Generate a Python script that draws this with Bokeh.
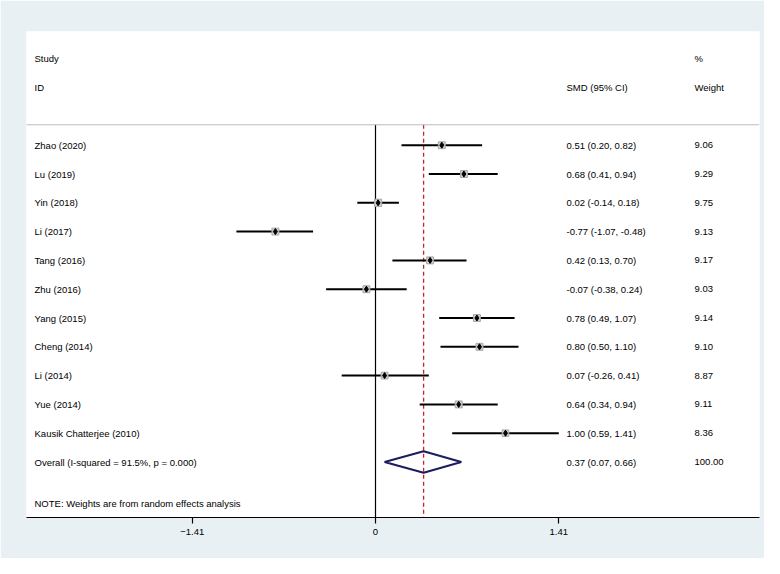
from bokeh.plotting import figure
from bokeh.models import Range1d, FixedTicker, Span, ColumnDataSource
from bokeh.core.properties import value
from bokeh.embed import file_html
from bokeh.resources import INLINE

# ---- data ----
studies = ["Zhao (2020)", "Lu (2019)", "Yin (2018)", "Li (2017)", "Tang (2016)",
           "Zhu (2016)", "Yang (2015)", "Cheng (2014)", "Li (2014)", "Yue (2014)",
           "Kausik Chatterjee (2010)"]
smd = [0.51, 0.68, 0.02, -0.77, 0.42, -0.07, 0.78, 0.80, 0.07, 0.64, 1.00]
ci_lo = [0.20, 0.41, -0.14, -1.07, 0.13, -0.38, 0.49, 0.50, -0.26, 0.34, 0.59]
ci_hi = [0.82, 0.94, 0.18, -0.48, 0.70, 0.24, 1.07, 1.10, 0.41, 0.94, 1.41]
weights = [9.06, 9.29, 9.75, 9.13, 9.17, 9.03, 9.14, 9.10, 8.87, 9.11, 8.36]
overall_label = "Overall  (I-squared = 91.5%, p = 0.000)"
overall_smd = 0.37
overall_lo = 0.07
overall_hi = 0.66
overall_weight = 100.00
note = "NOTE: Weights are from random effects analysis"
tick_values = [-1.41, 0, 1.41]

# ---- layout constants ----
BG = "#e9f0f3"
FONT = "Liberation Sans"
FS = "9.5px"
X_STUDY = -2.623
X_SMD = 1.469
X_WT = 2.454
ROW_STUDY_HDR = -2
ROW_ID_HDR = -1
ROW_SEP = 0.29
ROW_NOTE = 13.43
Y_TOP = -2.948
Y_BOT = 13.927

rows = list(range(1, len(studies) + 1))
row_overall = len(studies) + 1

ci_text = [f"{m:.2f} ({l:.2f}, {h:.2f})" for m, l, h in zip(smd, ci_lo, ci_hi)]
wt_text = [f"{w:.2f}" for w in weights]
box_size = [2.3 * (w ** 0.5) for w in weights]

src = ColumnDataSource(dict(study=studies, smd=smd, lo=ci_lo, hi=ci_hi,
                            row=rows, ci_text=ci_text, wt_text=wt_text,
                            box=box_size))

p = figure(width=764, height=558, output_backend="svg", toolbar_location=None,
           x_range=Range1d(-2.6846, 2.9538), y_range=Range1d(Y_BOT, Y_TOP),
           min_border_left=26, min_border_right=5, min_border_top=31,
           min_border_bottom=41)
p.background_fill_color = "white"
p.border_fill_color = BG
p.outline_line_color = None
p.xgrid.visible = False
p.ygrid.visible = False
p.yaxis.visible = False

ax = p.xaxis[0]
ax.ticker = FixedTicker(ticks=tick_values)
ax.axis_line_color = "black"
ax.axis_line_width = 1.2
ax.major_tick_out = 6
ax.major_tick_in = 0
ax.minor_tick_line_color = None
ax.major_tick_line_color = "black"
ax.major_tick_line_width = 1.2
ax.major_label_text_font = FONT
ax.major_label_text_font_size = FS
ax.major_label_text_color = "black"
ax.major_label_standoff = 5

# separator line
p.add_layout(Span(location=ROW_SEP, dimension="width", line_color="#bdbdbd",
                  line_width=1.2))

# null line and overall effect line
p.segment(x0=[0], y0=[ROW_SEP], x1=[0], y1=[Y_BOT], line_color="black",
          line_width=1.2)
p.segment(x0=[overall_smd], y0=[ROW_SEP], x1=[overall_smd], y1=[Y_BOT],
          line_color="#c0262b", line_width=1.3, line_dash="4 3")

# CIs
p.segment(x0="lo", y0="row", x1="hi", y1="row", source=src,
          line_color="black", line_width=2)
p.scatter(x="smd", y="row", size="box", marker="square", source=src,
          fill_color="#cfcfcf", line_color="#a8a8a8", line_width=1)
p.scatter(x="smd", y="row", size=6, marker="diamond", source=src,
          fill_color="black", line_color="black")

# overall diamond
h = 0.375
p.patch(x=[overall_lo, overall_smd, overall_hi, overall_smd, overall_lo],
        y=[row_overall, row_overall - h, row_overall, row_overall + h, row_overall],
        fill_color=None, line_color="#1c1c5e", line_width=2)

tkw = dict(text_font=value(FONT), text_font_size=value(FS),
           text_color="black", text_baseline="middle", text_align="left")

p.text(x=X_STUDY, y="row", text="study", source=src, **tkw)
p.text(x=X_SMD, y="row", text="ci_text", source=src, **tkw)
p.text(x=X_WT, y="row", text="wt_text", source=src, **tkw)

p.text(x=[X_STUDY, X_STUDY, X_SMD, X_WT, X_WT],
       y=[ROW_STUDY_HDR, ROW_ID_HDR, ROW_ID_HDR, ROW_STUDY_HDR, ROW_ID_HDR],
       text=["Study", "ID", "SMD (95% CI)", "%", "Weight"], **tkw)

p.text(x=[X_STUDY, X_SMD, X_WT], y=[row_overall] * 3,
       text=[overall_label,
             f"{overall_smd:.2f} ({overall_lo:.2f}, {overall_hi:.2f})",
             f"{overall_weight:.2f}"], **tkw)
p.text(x=[X_STUDY], y=[ROW_NOTE], text=[note], **tkw)

open("out.html", "w").write(file_html(p, INLINE))
